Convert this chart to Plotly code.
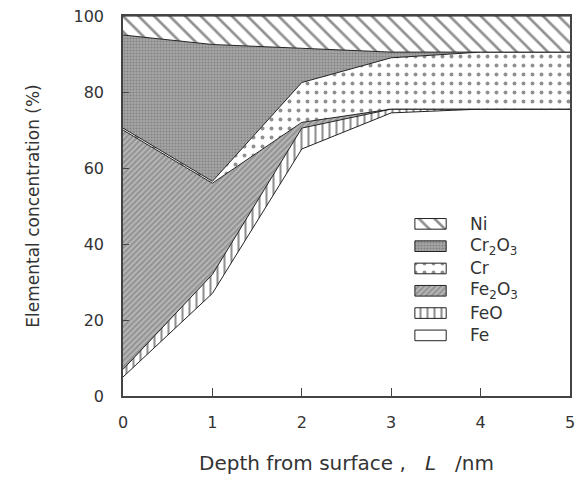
import plotly.graph_objects as go

depth = [0, 1, 2, 3, 4, 5]
fe = [5, 27, 65, 74.5, 75.5, 75.5]
feo = [2, 5, 5.5, 1, 0, 0]
fe2o3 = [63, 24, 1.5, 0, 0, 0]
cr = [0.5, 0.5, 10.5, 13.5, 15, 15]
cr2o3 = [24.5, 36, 9, 1.5, 0, 0]
ni = [5, 7.5, 8.5, 9.5, 9.5, 9.5]

names = ["Fe", "FeO", "Fe<sub>2</sub>O<sub>3</sub>", "Cr", "Cr<sub>2</sub>O<sub>3</sub>", "Ni"]
series = [fe, feo, fe2o3, cr, cr2o3, ni]
patterns = [
    None,
    dict(shape="|", size=7, solidity=0.3, fgcolor="#222", bgcolor="white"),
    dict(shape="/", size=4, solidity=0.5, fgcolor="#6a6a6a", bgcolor="#b8b8b8"),
    dict(shape=".", size=9, solidity=0.15, fgcolor="#222", bgcolor="white"),
    dict(shape=".", size=3, solidity=0.4, fgcolor="#606060", bgcolor="#a6a6a6"),
    dict(shape="\\", size=11, solidity=0.24, fgcolor="#222", bgcolor="white"),
]

fig = go.Figure()
for name, vals, pat in zip(names, series, patterns):
    kw = dict(x=depth, y=vals, name=name, stackgroup="one", mode="lines",
              line=dict(color="#222", width=1), fillcolor="white", showlegend=False)
    if pat is not None:
        kw["fillpattern"] = pat
    fig.add_trace(go.Scatter(**kw))

# hand-drawn legend (swatches in an overlay 0..1 frame)
leg_x0, leg_x1, leg_top, leg_step, leg_half = 0.653, 0.723, 0.453, 0.0587, 0.014
annotations = []
for i, (name, pat) in enumerate(reversed(list(zip(names, patterns)))):
    yc = leg_top - i * leg_step
    kw = dict(x=[leg_x0, leg_x1, leg_x1, leg_x0, leg_x0],
              y=[yc - leg_half, yc - leg_half, yc + leg_half, yc + leg_half, yc - leg_half],
              fill="toself", mode="lines", line=dict(color="#222", width=1),
              fillcolor="white", xaxis="x2", yaxis="y2", showlegend=False, hoverinfo="skip")
    if pat is not None:
        kw["fillpattern"] = pat
    fig.add_trace(go.Scatter(**kw))
    annotations.append(dict(x=0.772, y=yc, xref="paper", yref="paper", text=name,
                            showarrow=False, xanchor="left", yanchor="middle",
                            font=dict(family="DejaVu Sans", size=17, color="#333")))

font = dict(family="DejaVu Sans, sans-serif", size=16, color="#333")
fig.update_layout(
    width=582, height=482,
    margin=dict(l=123, r=7, t=13, b=86),
    paper_bgcolor="white", plot_bgcolor="white",
    font=font,
    showlegend=False,
    annotations=annotations,
    xaxis2=dict(overlaying="x", range=[0, 1], visible=False),
    yaxis2=dict(overlaying="y", range=[0, 1], visible=False),
    xaxis=dict(range=[0, 5], tickvals=[0, 1, 2, 3, 4, 5], ticks="inside", ticklen=8,
               tickcolor="#444", ticklabelstandoff=11,
               showline=True, linecolor="#444", linewidth=1.5, mirror=True,
               showgrid=False, zeroline=False,
               title=dict(text="Depth from surface ,   <i>L</i>   /nm", standoff=25,
                          font=dict(size=20))),
    yaxis=dict(range=[0, 100], tickvals=[0, 20, 40, 60, 80, 100], ticks="inside", ticklen=6,
               tickcolor="#444", ticklabelstandoff=14,
               showline=True, linecolor="#444", linewidth=1.5, mirror=True,
               showgrid=False, zeroline=False,
               title=dict(text="Elemental concentration (%)", standoff=30,
                          font=dict(size=17))),
)

fig.write_html("out.html", config={"displayModeBar": False},
               post_script="document.body.style.margin='0';")
